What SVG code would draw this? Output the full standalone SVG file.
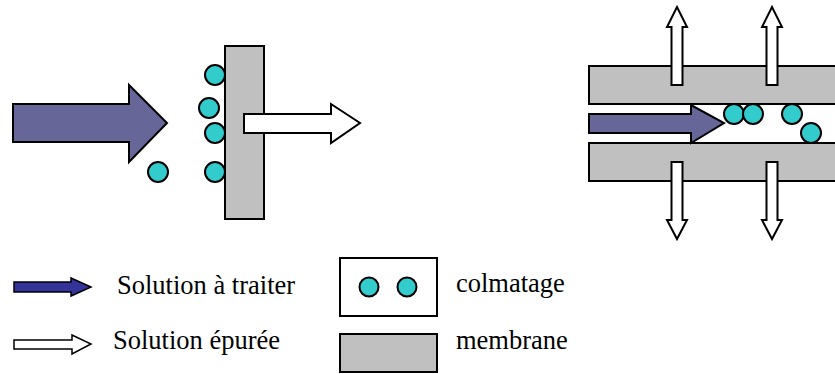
<svg xmlns="http://www.w3.org/2000/svg" width="835" height="374" viewBox="0 0 835 374">
<style>
.mem{fill:#c0c0c0;stroke:#000;stroke-width:2}
.dot{fill:#33cccc;stroke:#000;stroke-width:2}
.feed{fill:#666699;stroke:#000;stroke-width:2;stroke-linejoin:miter}
.perm{fill:#fff;stroke:#000;stroke-width:2;stroke-linejoin:miter}
.box{fill:#fff;stroke:#000;stroke-width:2}
text{font-family:"Liberation Serif","Times New Roman",serif;font-size:26.5px;fill:#000}
</style>
<rect width="835" height="374" fill="#fff"/>
<g id="left-diagram">
  <polygon class="feed" points="13,104 129,104 129,85 167,123 129,162 129,142 13,142"/>
  <rect class="mem" x="225" y="46" width="39" height="173"/>
  <circle class="dot" cx="215" cy="75" r="10"/>
  <circle class="dot" cx="209" cy="108" r="10"/>
  <circle class="dot" cx="215" cy="133" r="10"/>
  <circle class="dot" cx="158" cy="172" r="10"/>
  <circle class="dot" cx="215" cy="172" r="10"/>
  <polygon class="perm" points="244,114 331,114 331,104 360,123 331,143 331,133 244,133"/>
</g>
<g id="right-diagram">
  <rect class="mem" x="589" y="66" width="250" height="38"/>
  <rect class="mem" x="589" y="143" width="250" height="38"/>
  <polygon class="feed" points="589,114 691,114 691,105 724,123 691,143 691,133 589,133"/>
  <circle class="dot" cx="734" cy="114" r="10"/>
  <circle class="dot" cx="753" cy="114" r="10"/>
  <circle class="dot" cx="792" cy="114" r="10"/>
  <circle class="dot" cx="811" cy="133" r="10"/>
</g>
<g id="connectors">
  <polygon class="perm" points="671.5,85 671.5,27 667,27 677,7 687,27 682.5,27 682.5,85"/>
  <polygon class="perm" points="766.5,85 766.5,27 762,27 772,7 782,27 777.5,27 777.5,85"/>
  <polygon class="perm" points="671.5,162 671.5,220 667,220 677,239 687,220 682.5,220 682.5,162"/>
  <polygon class="perm" points="766.5,162 766.5,220 762,220 772,239 782,220 777.5,220 777.5,162"/>
</g>
<g id="legend-feed">
  <polygon points="14,282 71,282 71,278 91,287 71,296 71,292 14,292" fill="#333399" stroke="#000" stroke-width="1.5"/>
  <text x="117" y="294">Solution à traiter</text>
</g>
<g id="legend-perm">
  <polygon points="14,340 72,340 72,335 91,344 72,354 72,349 14,349" fill="#fff" stroke="#000" stroke-width="1.5"/>
  <text x="113" y="349">Solution épurée</text>
</g>
<g id="legend-colmatage">
  <rect class="box" x="340" y="258" width="97" height="58"/>
  <circle class="dot" cx="369" cy="287" r="9.5"/>
  <circle class="dot" cx="407" cy="287" r="9.5"/>
  <text x="456" y="292">colmatage</text>
</g>
<g id="legend-membrane">
  <rect class="mem" x="340" y="334" width="97" height="38"/>
  <text x="456" y="349">membrane</text>
</g>
</svg>
